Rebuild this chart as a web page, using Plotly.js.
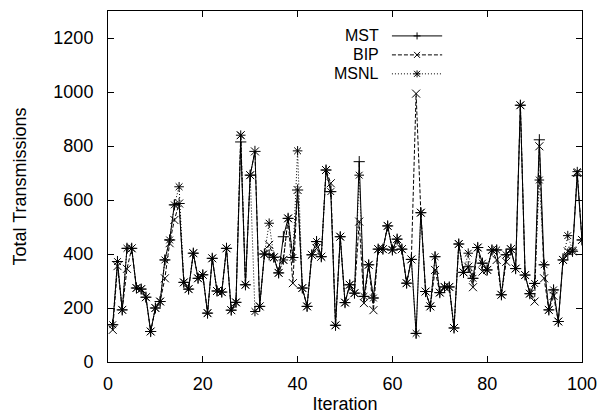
<!DOCTYPE html>
<html>
<head>
<meta charset="utf-8">
<script src="https://cdn.plot.ly/plotly-3.0.1.min.js"></script>
<style>html,body{margin:0;padding:0;background:#fff;}#chart{width:606px;height:417px;}</style>
</head>
<body>
<div id="chart"></div>
<script>
const iterations = [1,2,3,4,5,6,7,8,9,10,11,12,13,14,15,16,17,18,19,20,21,22,23,24,25,26,27,28,29,30,31,32,33,34,35,36,37,38,39,40,41,42,43,44,45,46,47,48,49,50,51,52,53,54,55,56,57,58,59,60,61,62,63,64,65,66,67,68,69,70,71,72,73,74,75,76,77,78,79,80,81,82,83,84,85,86,87,88,89,90,91,92,93,94,95,96,97,98,99,100];

const mst = [138,372,193,421,421,274,270,240,113,200,224,378,452,582,587,295,270,403,310,323,
             181,384,263,259,421,192,221,815,286,692,780,206,400,397,388,330,464,532,387,637,
             274,206,397,446,390,711,631,136,464,220,286,255,742,243,360,237,418,418,504,415,
             455,418,292,380,106,553,261,206,390,257,278,278,126,437,332,353,310,424,366,341,
             415,415,249,397,418,346,951,322,253,291,823,360,193,267,150,378,400,410,690,452];

const bip = [119,355,193,345,421,274,270,240,113,200,224,310,440,526,587,295,270,403,310,323,
             181,384,263,259,421,192,221,840,286,692,780,206,400,434,388,330,378,532,292,637,
             274,206,397,421,390,711,662,136,464,220,286,255,520,218,360,192,418,418,504,415,
             455,418,292,380,994,553,261,206,341,257,278,278,126,437,332,353,277,424,335,341,
             415,378,249,371,418,346,951,322,253,224,799,310,193,245,150,378,410,410,700,452];

const msnl = [138,372,193,421,421,274,270,240,113,200,224,378,452,582,649,295,270,403,310,323,
              181,384,263,259,421,192,221,840,286,692,187,206,400,514,388,330,378,532,387,782,
              274,206,397,446,390,711,631,136,464,220,286,255,692,243,360,237,418,418,504,415,
              455,418,292,380,106,553,261,206,390,257,278,278,126,437,332,403,310,424,366,341,
              415,415,249,397,418,346,951,322,253,291,674,360,193,267,150,378,468,415,705,452];

const seriesNames = ['MST','BIP','MSNL'];
const xTicks = [0,20,40,60,80,100];
const yTicks = [0,200,400,600,800,1000,1200];

const FONT = 'Liberation Sans, Arial, sans-serif';
const FS = 18;

const styles = [
  {dash:'solid', symbol:'cross-thin-open'},
  {dash:'4px,2px', symbol:'x-thin-open'},
  {dash:'1px,2px', symbol:'asterisk-open'}
];
const seriesData = [mst, bip, msnl];

const traces = seriesData.map((ys, i) => ({
  x: iterations, y: ys, type: 'scatter', mode: 'lines+markers', name: seriesNames[i],
  line: {color: '#000', width: 1, dash: styles[i].dash},
  marker: {symbol: styles[i].symbol, size: 8, color: '#000', line: {color: '#000', width: 1}},
  showlegend: false
}));

// custom gnuplot-style key: label right-aligned, sample to the right
const shapes = [];
const annotations = [];
const keyRowsY = [0.929, 0.875, 0.821];
const keyTextX = 0.574, keyL0 = 0.599, keyL1 = 0.705, keyM = 0.652;
seriesNames.forEach((nm, i) => {
  annotations.push({xref:'paper', yref:'paper', x:keyTextX, y:keyRowsY[i], xanchor:'right', yanchor:'middle',
    text:nm, showarrow:false, borderpad:0, font:{family:FONT, size:16, color:'#000'}});
  shapes.push({type:'line', xref:'paper', yref:'paper', x0:keyL0, x1:keyL1, y0:keyRowsY[i], y1:keyRowsY[i],
    line:{color:'#000', width:1, dash:styles[i].dash}});
  const segs = [];
  if (i === 0 || i === 2) { segs.push([-3.5,0,3.5,0],[0,-3.5,0,3.5]); }
  if (i === 1 || i === 2) { segs.push([-3,-3,3,3],[-3,3,3,-3]); }
  segs.forEach(s => shapes.push({type:'line', xref:'paper', yref:'paper', xsizemode:'pixel', ysizemode:'pixel',
    xanchor:keyM, yanchor:keyRowsY[i], x0:s[0], y0:s[1], x1:s[2], y1:s[3], line:{color:'#000', width:1}}));
});

const layout = {
  width: 606, height: 417,
  margin: {l:108, r:24, t:11, b:55},
  paper_bgcolor:'#fff', plot_bgcolor:'#fff',
  font: {family: FONT, size: FS, color:'#000'},
  showlegend: false,
  xaxis: {
    range:[0,100], tickvals:xTicks, ticktext:xTicks.map(String), ticks:'inside', ticklen:6, tickwidth:1, tickcolor:'#000',
    showline:true, linecolor:'#000', linewidth:1, mirror:'ticks', showgrid:false, zeroline:false,
    ticklabelstandoff: 5,
    title:{text:'Iteration', font:{family:FONT, size:FS}, standoff:4}
  },
  yaxis: {
    range:[0,1300], tickvals:yTicks, ticktext:yTicks.map(String), ticks:'inside', ticklen:6, tickwidth:1, tickcolor:'#000',
    showline:true, linecolor:'#000', linewidth:1, mirror:'ticks', showgrid:false, zeroline:false,
    ticklabelstandoff: 10,
    title:{text:'Total Transmissions', font:{family:FONT, size:FS}, standoff:22}
  },
  shapes: shapes,
  annotations: annotations
};

Plotly.newPlot('chart', traces, layout, {displayModeBar:false, staticPlot:true});
</script>
</body>
</html>
